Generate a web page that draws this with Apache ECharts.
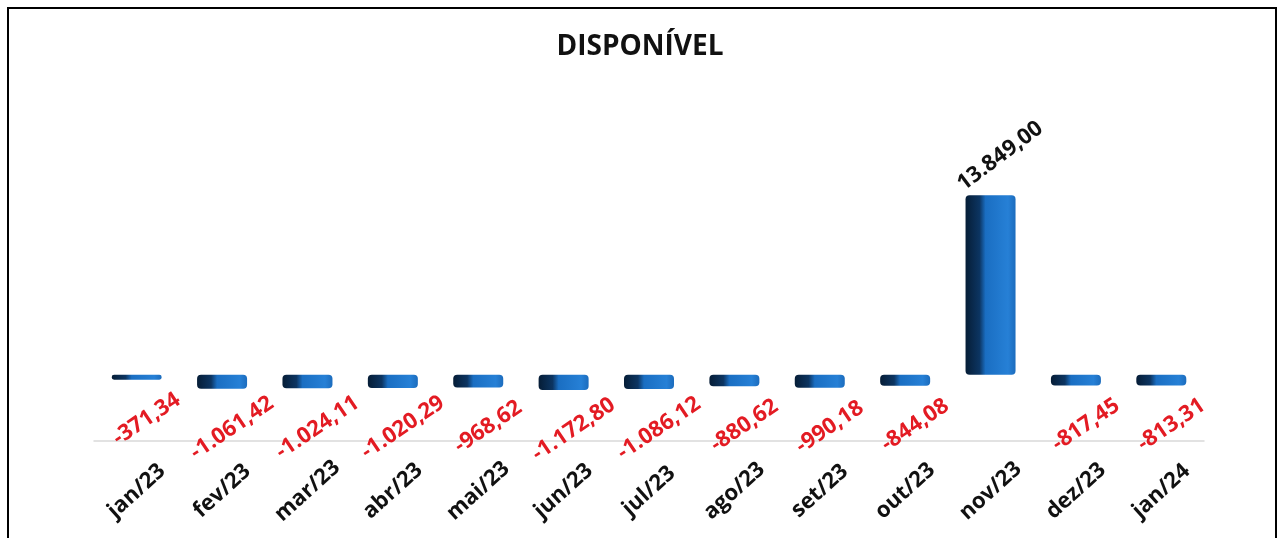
<!DOCTYPE html>
<html lang="pt">
<head>
  <meta charset="UTF-8">
  <script src="https://cdn.jsdelivr.net/npm/echarts@6.0.0/dist/echarts.min.js"></script>
  <style>
    body { margin: 0; background: #fff; }
    #frame { position: absolute; left: 7px; top: 7px; width: 1266px; height: 560px; border: 2px solid #000; pointer-events: none; }
  </style>
</head>
<body>
  <div id="disponivelChart" style="width: 1280px;height:538px;"></div>
  <div id="frame"></div>

  <script type="text/javascript">

    var months = ['jan/23', 'fev/23', 'mar/23', 'abr/23', 'mai/23', 'jun/23', 'jul/23',
                  'ago/23', 'set/23', 'out/23', 'nov/23', 'dez/23', 'jan/24'];
    var disponivel = [-371.34, -1061.42, -1024.11, -1020.29, -968.62, -1172.80, -1086.12,
                      -880.62, -990.18, -844.08, 13849.00, -817.45, -813.31];

    // formato brasileiro: 13.849,00
    function fmtBR(v) {
        var neg = v < 0;
        var parts = Math.abs(v).toFixed(2).split('.');
        var inteiro = parts[0].replace(/\B(?=(\d{3})+(?!\d))/g, '.');
        return (neg ? '-' : '') + inteiro + ',' + parts[1];
    }

    var barColor = new echarts.graphic.LinearGradient(0, 0, 1, 0, [
        { offset: 0, color: '#061d36' },
        { offset: 0.28, color: '#0c3562' },
        { offset: 0.4, color: '#1a6ec2' },
        { offset: 0.85, color: '#2680d6' },
        { offset: 1, color: '#1c6cbd' }
    ]);

    const styledData = disponivel.map(v => {
        if (v < 0) {
            return {
                value: v,
                label: {
                    position: 'bottom',
                    distance: 46,
                    offset: [12, 0],
                    rotate: 34,
                    align: 'center',
                    verticalAlign: 'middle',
                    color: '#e31b23'
                }
            };
        }
        return {
            value: v,
            label: {
                position: 'top',
                distance: 32,
                offset: [12, 0],
                rotate: 37,
                align: 'center',
                verticalAlign: 'middle',
                color: '#111'
            }
        };
    });

    function createChart() {
        const chart = echarts.init(document.getElementById('disponivelChart'));

        let option = {
            animation: false,
            title: {
                text: 'DISPONÍVEL',
                left: 'center',
                top: 28,
                textStyle: { fontFamily: 'Open Sans', fontWeight: 'bold', fontSize: 28, color: '#111' }
            },
            grid: { left: 94, right: 76, top: 100, bottom: 97 },
            xAxis: {
                type: 'category',
                data: months,
                position: 'bottom',
                axisLine: { onZero: false, lineStyle: { color: '#d9d9d9', width: 1.5 } },
                axisTick: { show: false },
                axisLabel: {
                    interval: 0,
                    rotate: 42,
                    align: 'center',
                    verticalAlign: 'middle',
                    margin: 50,
                    fontFamily: 'Open Sans',
                    fontWeight: 'bold',
                    fontSize: 22,
                    color: '#111'
                }
            },
            yAxis: {
                type: 'value',
                min: -5100,
                max: 21200,
                show: false,
                splitLine: { show: false }
            },
            series: [
                {
                    name: 'Disponível',
                    type: 'bar',
                    barWidth: 50,
                    data: styledData,
                    itemStyle: { color: barColor, borderRadius: 4 },
                    label: {
                        show: true,
                        fontFamily: 'Open Sans',
                        fontWeight: 'bold',
                        fontSize: 22,
                        formatter: p => fmtBR(p.value)
                    }
                }
            ]
        };

        chart.setOption(option);
    }
    createChart();
  </script>
</body>
</html>
